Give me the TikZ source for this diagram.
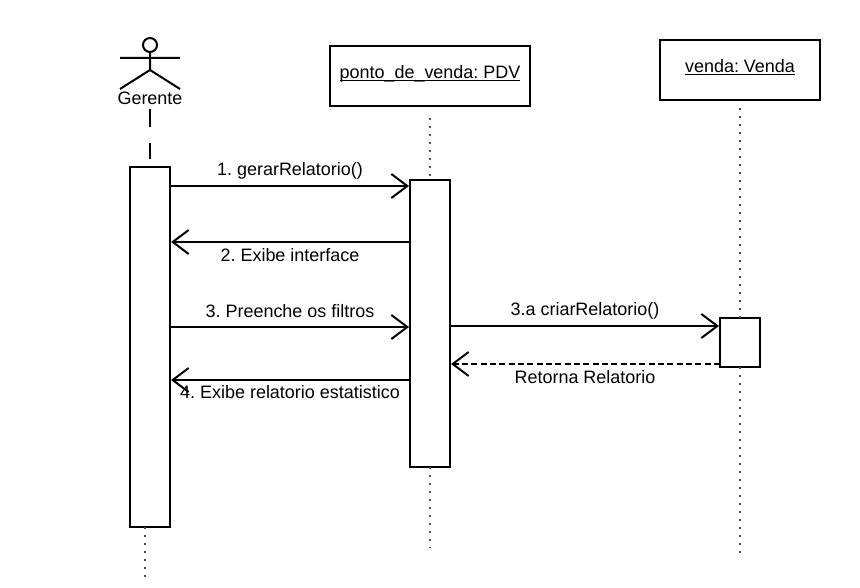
\documentclass[tikz,border=0pt]{standalone}
\usepackage{fontspec}
\setmainfont{Liberation Sans}
\usetikzlibrary{arrows.meta}
\tikzset{
 box/.style={draw,line width=1.5pt,fill=white,inner sep=0pt,outer sep=0pt,anchor=north west},
 msg/.style={line width=1.5pt,-{Straight Barb[length=12pt,width=18pt,line width=1.5pt]}},
 lbl/.style={font=\fontsize{13.48}{15}\selectfont\frenchspacing,inner sep=0pt,text height=9.5pt,text depth=3pt,anchor=center},
 life/.style={line width=1.1pt,black!70,dash pattern=on 1.5pt off 4.5pt},
}
\begin{document}
\begin{tikzpicture}[x=0.75pt,y=-0.75pt]
\useasboundingbox (0,0) rectangle (860,588);
\fill[white] (0,0) rectangle (860,588);
% actor
\node[draw,circle,line width=1.5pt,minimum size=10.5pt,inner sep=0pt,outer sep=0pt] (head) at (150,45) {};
\coordinate (hip) at (150,70);
\coordinate (armL) at (120,58);
\coordinate (armR) at (180,58);
\coordinate (legL) at (120,89);
\coordinate (legR) at (180,89);
\draw[line width=1.5pt] (head) -- (hip) (armL) -- (armR) (legL) -- (hip) -- (legR);
\node[lbl] (gerente) at (150,100) {Gerente};
% heads
\node[box,minimum width=150pt,minimum height=45pt] (pdv) at (330,46) {};
\node[lbl] (pdvt) at (430,74.5) {\underline{\smash{ponto\_de\_venda: PDV}}};
\node[box,minimum width=120pt,minimum height=45pt] (venda) at (660,40) {};
\node[lbl] (vendat) at (740,68.5) {\underline{\smash{venda: Venda}}};
% activations
\node[box,minimum width=30pt,minimum height=270pt] (a1) at (130,167) {};
\node[box,minimum width=30pt,minimum height=215.25pt] (a2) at (410,180) {};
\node[box,minimum width=30pt,minimum height=36.75pt] (a3) at (720,318) {};
% lifelines
\coordinate (e1) at (145,580);
\coordinate (e2) at (430,548);
\coordinate (e3) at (740,555);
\draw[line width=1.5pt,dash pattern=on 13.5pt off 12pt] (150,109) -- (150,159);
\draw[life] (a1.south -| e1) -- (e1);
\draw[life] (pdv.south) ++(0,12) -- (a2.north);
\draw[life] (a2.south) -- (e2);
\draw[life] (venda.south) ++(0,8) -- (a3.north);
\draw[life] (a3.south) -- (e3);
% messages
\draw[msg] (170,186) -- (409,186);
\draw[msg] (410,242) -- (171,242);
\draw[msg] (170,327) -- (409,327);
\draw[msg] (450,326) -- (719,326);
\draw[msg,dash pattern=on 4.5pt off 2.5pt] (720,364) -- (451,364);
\draw[msg] (410,380) -- (171,380);
\node[lbl] at (290,171) {1. gerarRelatorio()};
\node[lbl] at (290,257) {2. Exibe interface};
\node[lbl] at (290,313) {3. Preenche os filtros};
\node[lbl] at (585,311) {3.a criarRelatorio()};
\node[lbl] at (585,379) {Retorna Relatorio};
\node[lbl] at (290,394) {4. Exibe relatorio estatistico};
\end{tikzpicture}
\end{document}
